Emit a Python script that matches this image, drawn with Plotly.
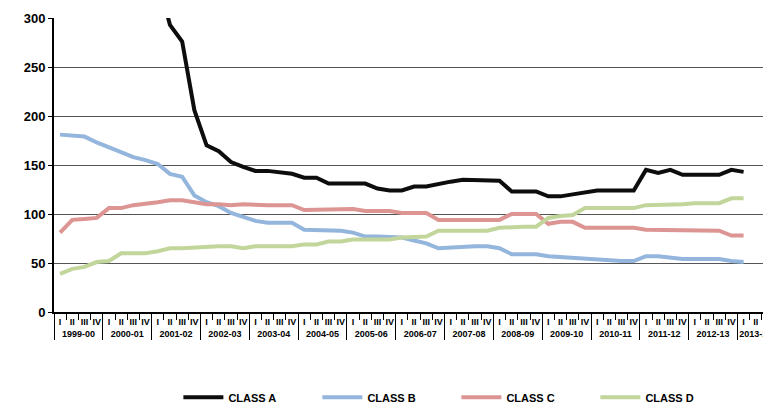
import plotly.graph_objects as go

years = ["1999-00","2000-01","2001-02","2002-03","2003-04","2004-05","2005-06","2006-07",
         "2007-08","2008-09","2009-10","2010-11","2011-12","2012-13","2013-14"]
quarters = ["I","II","III","IV"]

class_a = [420,410,400,390,380,370,360,350,340,293,276,206,170,164,153,148,144,144,142,141,
           137,137,131,131,131,131,126,124,124,128,128,131,133,135,135,135,134,123,123,123,
           118,118,120,122,124,124,124,124,145,142,145,140,140,140,140,145,143]
class_b = [181,180,179,173,168,164,158,155,151,141,138,119,112,108,101,97,93,91,91,91,
           84,84,83,83,81,77,77,77,76,73,70,65,66,67,67,67,65,59,59,59,
           57,56,55,54,53,52,52,52,57,57,55,54,54,54,54,52,51]
class_c = [81,94,95,96,106,106,109,110,112,114,114,112,110,110,109,110,109,109,109,109,
           104,104,105,105,105,103,103,103,101,101,101,94,94,94,94,94,94,100,100,100,
           90,92,92,86,86,86,86,86,84,84,84,83,83,83,83,78,78]
class_d = [39,44,46,51,52,60,60,60,62,65,65,66,66,67,67,65,67,67,67,67,
           69,69,72,72,74,74,74,74,76,76,77,83,83,83,83,83,86,87,87,87,
           96,98,99,106,106,106,106,106,109,109,109,110,111,111,111,116,116]

xcat_year = [y for y in years for q in quarters]
xcat_q = [q for y in years for q in quarters]
n_total = len(xcat_year)

def pad(v):
    return list(v) + [None] * (n_total - len(v))

series = [("CLASS A", class_a, "#0d0d0d"), ("CLASS B", class_b, "#94b5dc"),
          ("CLASS C", class_c, "#dc9593"), ("CLASS D", class_d, "#c2d69b")]

fig = go.Figure()
for name, vals, col in series:
    fig.add_trace(go.Scatter(x=[xcat_year, xcat_q], y=pad(vals), mode="lines", name=name,
                             line=dict(color=col, width=4), connectgaps=False))

fig.update_layout(
    width=771, height=402, margin=dict(l=46, r=0, t=10, b=98, autoexpand=False),
    paper_bgcolor="white", plot_bgcolor="white",
    font=dict(family="Liberation Sans, Arial", color="black"),
    showlegend=True,
    legend=dict(orientation="h", x=0.555, xanchor="center", y=-0.29, yanchor="middle",
                font=dict(size=11, weight="bold"), entrywidth=84, itemwidth=40,
                tracegroupgap=0),
    xaxis=dict(type="multicategory", range=[-0.5, 58.9], showline=True, linecolor="black",
               linewidth=2, ticks="outside", ticklen=6, tickcolor="black", tickangle=0,
               tickfont=dict(size=9, weight="bold"), showgrid=False, automargin=False,
               showdividers=True, dividercolor="black", dividerwidth=1),
    yaxis=dict(range=[0, 300], dtick=50, showline=True, linecolor="black", linewidth=2,
               ticks="outside", ticklen=4, tickcolor="black", automargin=False,
               tickfont=dict(size=13, weight="bold"),
               gridcolor="#555555", gridwidth=1, zeroline=False),
)
fig.write_html("out.html")
